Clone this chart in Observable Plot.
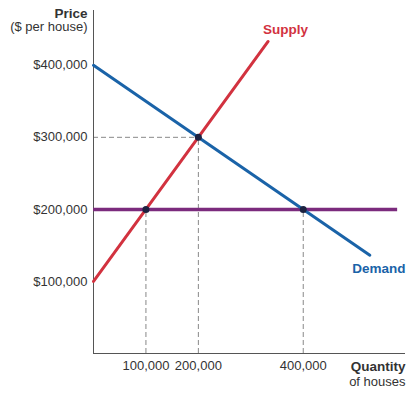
<!DOCTYPE html>
<html>
<head>
<meta charset="utf-8">
<script src="https://cdn.jsdelivr.net/npm/d3@7"></script>
<script src="https://cdn.jsdelivr.net/npm/@observablehq/plot@0.6"></script>
<style>
  html, body { margin: 0; padding: 0; background: #fff; }
  #chart svg { display: block; }
</style>
</head>
<body>
<div id="chart"></div>
<script>
const supplyQ = [0, 333000];
const supplyP = [100000, 433000];
const demandQ = [0, 527000];
const demandP = [400000, 136500];
const controlPrice = 200000;
const controlQ = [0, 580000];
const pointQ = [100000, 200000, 400000];
const pointP = [200000, 300000, 200000];
const xTicks = [100000, 200000, 400000];
const yTicks = [100000, 200000, 300000, 400000];

const supply = supplyQ.map((q, i) => ({q, p: supplyP[i]}));
const demand = demandQ.map((q, i) => ({q, p: demandP[i]}));
const points = pointQ.map((q, i) => ({q, p: pointP[i]}));

const font = "'Liberation Sans', Arial, Helvetica, sans-serif";
const red = "#d2323f", blue = "#1a63a8", purple = "#7b2b7d", dark = "#1d2240";

const chart = Plot.plot({
  width: 412,
  height: 393,
  marginLeft: 93,
  marginRight: 7,
  marginTop: 10,
  marginBottom: 40,
  style: {fontFamily: font, fontSize: "13px", color: "#333", background: "#fff"},
  x: {domain: [0, 595000], axis: null},
  y: {domain: [0, 476000], axis: null},
  marks: [
    // dashed guides
    Plot.ruleX(points, {x: "q", y1: 0, y2: "p", stroke: "#888", strokeDasharray: "5,3", strokeWidth: 1}),
    Plot.ruleY([points[1]], {y: "p", x1: 0, x2: "q", stroke: "#888", strokeDasharray: "5,3", strokeWidth: 1}),
    // axes lines
    Plot.ruleX([0], {y1: 0, y2: 476000, stroke: "#555", strokeWidth: 1}),
    Plot.ruleY([0], {x1: 0, x2: 595000, stroke: "#555", strokeWidth: 1}),
    // curves
    Plot.ruleY([controlPrice], {x1: controlQ[0], x2: controlQ[1], stroke: purple, strokeWidth: 3.5}),
    Plot.line(supply, {x: "q", y: "p", stroke: red, strokeWidth: 3}),
    Plot.line(demand, {x: "q", y: "p", stroke: blue, strokeWidth: 3}),
    Plot.dot(points, {x: "q", y: "p", r: 3.5, fill: dark}),
    // tick labels
    Plot.text(yTicks, {x: 0, y: d => d, text: d => "$" + d3.format(",")(d), textAnchor: "end", dx: -6, fill: "#333", fontSize: 13}),
    Plot.text(xTicks, {x: d => d, y: 0, text: d => d3.format(",")(d), dy: 12, fill: "#333", fontSize: 13}),
    // axis titles
    Plot.text(["Price"], {x: 0, y: 472000, text: d => d, textAnchor: "end", dx: -6, fontWeight: "bold", fill: "#333", fontSize: 13.5}),
    Plot.text(["($ per house)"], {x: 0, y: 453000, text: d => d, textAnchor: "end", dx: -6, fill: "#333", fontSize: 13}),
    Plot.text(["Quantity"], {x: 595000, y: 0, text: d => d, textAnchor: "end", dy: 13, fontWeight: "bold", fill: "#333", fontSize: 13.5}),
    Plot.text(["of houses"], {x: 595000, y: 0, text: d => d, textAnchor: "end", dy: 28, fill: "#333", fontSize: 13}),
    // curve labels
    Plot.text(["Supply"], {x: 366000, y: 450000, text: d => d, fill: red, fontWeight: "bold", fontSize: 13.5}),
    Plot.text(["Demand"], {x: 595000, y: 118000, text: d => d, textAnchor: "end", fill: blue, fontWeight: "bold", fontSize: 13.5})
  ]
});
document.getElementById("chart").appendChild(chart);
</script>
</body>
</html>
